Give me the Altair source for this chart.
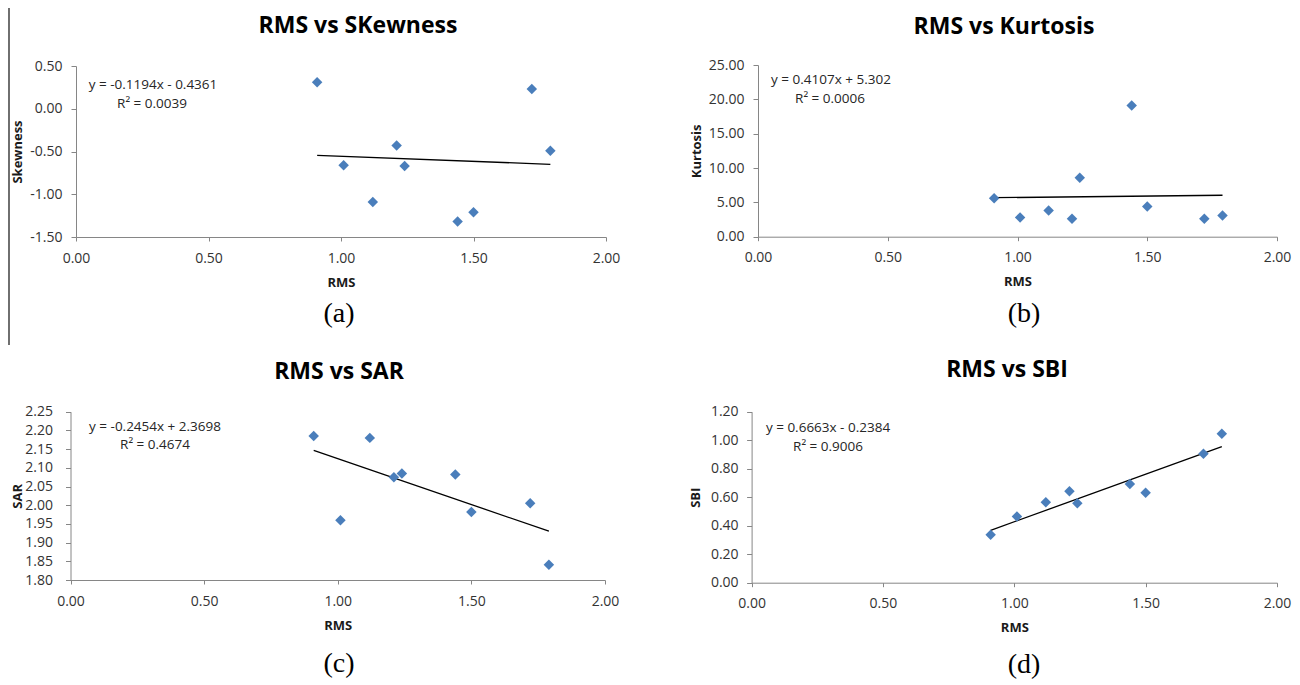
import altair as alt
import pandas as pd

# ---------------- data ----------------
rms = [0.91, 1.01, 1.12, 1.21, 1.24, 1.44, 1.50, 1.72, 1.79]
skewness = [0.31, -0.66, -1.09, -0.43, -0.67, -1.32, -1.21, 0.23, -0.49]
kurtosis = [5.6, 2.8, 3.8, 2.6, 8.6, 19.1, 4.4, 2.6, 3.1]
sar = [2.185, 1.960, 2.180, 2.075, 2.085, 2.082, 1.982, 2.005, 1.841]
sbi = [0.337, 0.465, 0.565, 0.641, 0.557, 0.692, 0.632, 0.905, 1.046]

series = [skewness, kurtosis, sar, sbi]
y_names = ["Skewness", "Kurtosis", "SAR", "SBI"]
titles = ["RMS vs SKewness", "RMS vs Kurtosis", "RMS vs SAR", "RMS vs SBI"]
captions = ["(a)", "(b)", "(c)", "(d)"]
slopes = [-0.1194, 0.4107, -0.2454, 0.6663]
intercepts = [-0.4361, 5.302, 2.3698, -0.2384]
equations = ["y = -0.1194x - 0.4361", "y = 0.4107x + 5.302",
             "y = -0.2454x + 2.3698", "y = 0.6663x - 0.2384"]
r2_labels = ["R² = 0.0039", "R² = 0.0006", "R² = 0.4674", "R² = 0.9006"]
y_domains = [[-1.5, 0.5], [0, 25], [1.80, 2.25], [0, 1.2]]
y_ticks = [
    [-1.5, -1.0, -0.5, 0.0, 0.5],
    [0, 5, 10, 15, 20, 25],
    [1.80, 1.85, 1.90, 1.95, 2.00, 2.05, 2.10, 2.15, 2.20, 2.25],
    [0.0, 0.2, 0.4, 0.6, 0.8, 1.0, 1.2],
]
x_domain = [0, 2]
x_ticks = [0.0, 0.5, 1.0, 1.5, 2.0]

# ---------------- layout (page pixels) ----------------
M = 8            # page margin
W, H = 1284, 677
FONT = "Open Sans"
BLUE = "#4a7ebb"
AXIS_GREY = "#868686"

layout = [
    dict(x0=76, x1=606, yt=66, yb=237, tx=358, ty=33, eq=(153, 84.5), r2=(152, 103.5),
         cap=(339, 316), ytx=-59, lpad=9),
    dict(x0=758, x1=1277, yt=65, yb=236.7, tx=1004, ty=33.5, eq=(831, 80), r2=(830, 99.3),
         cap=(1024, 316), ytx=-62, lpad=9),
    dict(x0=70.5, x1=605, yt=411.7, yb=580, tx=339, ty=379, eq=(155, 427), r2=(155, 445),
         cap=(339, 666), ytx=-53.5, lpad=13),
    dict(x0=751.6, x1=1277, yt=411.7, yb=582.7, tx=1007, ty=376.7, eq=(828, 428), r2=(828, 447),
         cap=(1024, 667), ytx=-56, lpad=8.5),
]

minus_fix = "replace(datum.label, '\u2212', '-')"


def text_layer(txt, x, y, size, weight="normal", font=FONT, baseline="middle", color="#262626"):
    return alt.Chart(pd.DataFrame({"t": [txt]})).mark_text(
        font=font, fontSize=size, fontWeight=weight, baseline=baseline,
        align="center", color=color
    ).encode(text="t:N", x=alt.value(x - M), y=alt.value(y - M))


def panel(i):
    L = layout[i]
    yname = y_names[i]
    pts = pd.DataFrame({"RMS": rms, yname: series[i]})
    xmin, xmax = min(rms), max(rms)
    fit = pd.DataFrame({
        "RMS": [xmin, xmax],
        yname: [slopes[i] * xmin + intercepts[i], slopes[i] * xmax + intercepts[i]],
    })

    x_enc = alt.X(
        "RMS:Q",
        scale=alt.Scale(domain=x_domain, range=[L["x0"] - M, L["x1"] - M], nice=False, zero=False),
        axis=alt.Axis(
            orient="bottom", offset=(L["yb"] - M) - H, values=x_ticks, format=".2f",
            grid=False, labelFlush=False, tickSize=4, labelPadding=17, labelBaseline="middle",
            labelFont=FONT, labelFontSize=14, labelColor="#333333",
            domainColor=AXIS_GREY, tickColor=AXIS_GREY,
            title="RMS", titleFont=FONT, titleFontSize=13, titleFontWeight="bold",
            titleColor="#1a1a1a", titleBaseline="middle",
            titleX=(L["x0"] + L["x1"]) / 2 - M, titleY=45,
        ),
    )
    y_enc = alt.Y(
        f"{yname}:Q",
        scale=alt.Scale(domain=y_domains[i], range=[L["yb"] - M, L["yt"] - M], nice=False, zero=False),
        axis=alt.Axis(
            orient="left", offset=-(L["x0"] - M), values=y_ticks[i], format=".2f",
            labelExpr=minus_fix, grid=False, tickSize=5, labelPadding=L["lpad"],
            labelFont=FONT, labelFontSize=14, labelColor="#333333", labelOverlap=False,
            domainColor=AXIS_GREY, tickColor=AXIS_GREY,
            title=yname, titleFont=FONT, titleFontSize=13, titleFontWeight="bold",
            titleColor="#1a1a1a", titleBaseline="middle", titleAngle=270,
            titleX=L["ytx"], titleY=(L["yt"] + L["yb"]) / 2 - M,
        ),
    )

    points = alt.Chart(pts).mark_point(
        shape="diamond", filled=True, color=BLUE, size=110, opacity=1
    ).encode(x=x_enc, y=y_enc)
    line = alt.Chart(fit).mark_line(color="#000000", strokeWidth=1.3).encode(x=x_enc, y=y_enc)

    layers = [
        line,
        points,
        text_layer(titles[i], L["tx"], L["ty"], 23, weight="bold", baseline="alphabetic", color="#000000"),
        text_layer(equations[i], L["eq"][0], L["eq"][1], 13.5),
        text_layer(r2_labels[i], L["r2"][0], L["r2"][1], 13.5),
        text_layer(captions[i], L["cap"][0], L["cap"][1] - 2, 28, font="Liberation Serif", color="#000000"),
    ]
    if i == 0:
        frame = alt.Chart(pd.DataFrame({"k": [0]})).mark_rule(color="#222222", strokeWidth=1.3).encode(
            x=alt.value(1), y=alt.value(0), y2=alt.value(345 - M)
        )
        layers.insert(0, frame)
    return alt.layer(*layers)


chart = (
    alt.layer(*[panel(i) for i in range(4)])
    .resolve_scale(x="independent", y="independent")
    .properties(width=W, height=H, autosize=alt.AutoSizeParams(type="none"), padding=0,
                background="white")
    .configure_view(stroke=None)
)

chart.save("out.html", embed_options={"renderer": "svg", "actions": False})
